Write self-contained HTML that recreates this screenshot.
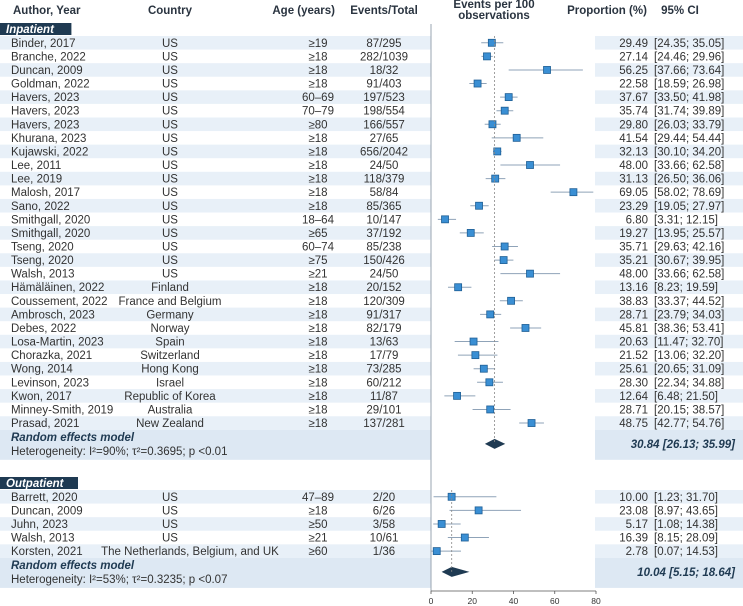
<!DOCTYPE html>
<html><head><meta charset="utf-8">
<style>
body{margin:0;background:#fff;}
svg{display:block;font-family:"Liberation Sans",sans-serif;}
</style></head>
<body>
<svg id="fp" width="743" height="606" viewBox="0 0 743 606">
<g id="bg"></g>
<g id="hdr" font-size="11.5" font-weight="bold" fill="#2a3440">
<text x="13" y="14">Author, Year</text>
<text x="170" y="14" text-anchor="middle">Country</text>
<text x="335" y="14" text-anchor="end">Age (years)</text>
<text x="384" y="14" text-anchor="middle">Events/Total</text>
<text x="494" y="8" text-anchor="middle">Events per 100</text>
<text x="494" y="19" text-anchor="middle">observations</text>
<text x="607" y="14" text-anchor="middle">Proportion (%)</text>
<text x="680" y="14" text-anchor="middle">95% CI</text>
</g>
<g id="rows" font-size="11.5" fill="#333"></g>
<g id="plot"></g>
</svg>
<script>
const inAuthors=["Binder, 2017","Branche, 2022","Duncan, 2009","Goldman, 2022","Havers, 2023","Havers, 2023","Havers, 2023","Khurana, 2023","Kujawski, 2022","Lee, 2011","Lee, 2019","Malosh, 2017","Sano, 2022","Smithgall, 2020","Smithgall, 2020","Tseng, 2020","Tseng, 2020","Walsh, 2013","Hämäläinen, 2022","Coussement, 2022","Ambrosch, 2023","Debes, 2022","Losa-Martin, 2023","Chorazka, 2021","Wong, 2014","Levinson, 2023","Kwon, 2017","Minney-Smith, 2019","Prasad, 2021"];
const inCountry=["US","US","US","US","US","US","US","US","US","US","US","US","US","US","US","US","US","US","Finland","France and Belgium","Germany","Norway","Spain","Switzerland","Hong Kong","Israel","Republic of Korea","Australia","New Zealand"];
const inAge=["≥19","≥18","≥18","≥18","60–69","70–79","≥80","≥18","≥18","≥18","≥18","≥18","≥18","18–64","≥65","60–74","≥75","≥21","≥18","≥18","≥18","≥18","≥18","≥18","≥18","≥18","≥18","≥18","≥18"];
const inEvents=["87/295","282/1039","18/32","91/403","197/523","198/554","166/557","27/65","656/2042","24/50","118/379","58/84","85/365","10/147","37/192","85/238","150/426","24/50","20/152","120/309","91/317","82/179","13/63","17/79","73/285","60/212","11/87","29/101","137/281"];
const inEst=[29.49,27.14,56.25,22.58,37.67,35.74,29.80,41.54,32.13,48.00,31.13,69.05,23.29,6.80,19.27,35.71,35.21,48.00,13.16,38.83,28.71,45.81,20.63,21.52,25.61,28.30,12.64,28.71,48.75];
const inLo=[24.35,24.46,37.66,18.59,33.50,31.74,26.03,29.44,30.10,33.66,26.50,58.02,19.05,3.31,13.95,29.63,30.67,33.66,8.23,33.37,23.79,38.36,11.47,13.06,20.65,22.34,6.48,20.15,42.77];
const inHi=[35.05,29.96,73.64,26.98,41.98,39.89,33.79,54.44,34.20,62.58,36.06,78.69,27.97,12.15,25.57,42.16,39.95,62.58,19.59,44.52,34.03,53.41,32.70,32.20,31.09,34.88,21.50,38.57,54.76];
const inPooled=[30.84,26.13,35.99];
const outAuthors=["Barrett, 2020","Duncan, 2009","Juhn, 2023","Walsh, 2013","Korsten, 2021"];
const outCountry=["US","US","US","US","The Netherlands, Belgium, and UK"];
const outAge=["47–89","≥18","≥50","≥21","≥60"];
const outEvents=["2/20","6/26","3/58","10/61","1/36"];
const outEst=[10.00,23.08,5.17,16.39,2.78];
const outLo=[1.23,8.97,1.08,8.15,0.07];
const outHi=[31.70,43.65,14.38,28.09,14.53];
const outPooled=[10.04,5.15,18.64];
const ticks=[0,20,40,60,80];

const NS="http://www.w3.org/2000/svg";
const X0=431,X1=596;
function xs(v){return X0+(v-0)/(80-0)*(X1-X0);}
function mk(tag,attrs,parent,txt){const e=document.createElementNS(NS,tag);for(const k in attrs)e.setAttribute(k,attrs[k]);if(txt!==undefined)e.textContent=txt;parent.appendChild(e);return e;}
const bg=document.getElementById('bg'),rows=document.getElementById('rows'),plot=document.getElementById('plot');
const fmt=v=>v.toFixed(2);
const STEP=13.58;

function section(label,y0,authors,country,age,events,est,lo,hi,pooled,hetTxt,key){
  const box=mk('rect',{x:0,y:y0,width:label.length*6.6+12,height:12,fill:'#1f3a52'},bg);
  
  
  const lt=mk('text',{x:6,y:y0+10,fill:'#fff','font-size':11.5,'font-style':'italic','font-weight':'bold'},bg,label);
  
  
  const top=y0+13;
  for(let i=0;i<authors.length;i++){
    const y=top+i*STEP, cy=y+STEP/2, ty=cy+4;
    if(i%2===0){
      const s1=mk('rect',{x:0,y:y,width:X0,height:STEP,fill:'#e8f0f8'},bg);
      
      
      const s2=mk('rect',{x:595,y:y,width:148,height:STEP,fill:'#e8f0f8'},bg);
      
      
    }
    const a=mk('text',{x:11,y:ty},rows,authors[i]);
    
    
    const long=country[i].length>20;
    const c=mk('text',{x:long?190:170,y:ty,'text-anchor':'middle'},rows,country[i]);
    
    
    const g=mk('text',{x:318,y:ty,'text-anchor':'middle'},rows,age[i]);
    
    
    const ev=mk('text',{x:384,y:ty,'text-anchor':'middle'},rows,events[i]);
    
    
    const p=mk('text',{x:648,y:ty,'text-anchor':'end'},rows,fmt(est[i]));
    
    
    const ci=mk('text',{x:654,y:ty},rows,'['+fmt(lo[i])+'; '+fmt(hi[i])+']');
    
    
    const ln=mk('line',{x1:xs(lo[i]),x2:xs(hi[i]),y1:cy,y2:cy,stroke:'#8fa3b8','stroke-width':1},plot);
    
    
    const sq=mk('rect',{x:xs(est[i])-3.5,y:cy-3.5,width:7,height:7,fill:'#3a8fd4',stroke:'#1f5f95','stroke-width':0.8},plot);
    
    
  }
  const by=top+authors.length*STEP;
  const b1=mk('rect',{x:0,y:by,width:X0,height:30,fill:'#dde8f3'},bg);
  
  
  const b2=mk('rect',{x:595,y:by,width:148,height:30,fill:'#dde8f3'},bg);
  
  
  const rt=mk('text',{x:11,y:by+11,'font-style':'italic','font-weight':'bold',fill:'#1f3a52'},rows,'Random effects model');
  
  
  const ht=mk('text',{x:11,y:by+25},rows,hetTxt);
  
  
  const pv=mk('text',{x:735,y:by+18,'text-anchor':'end','font-style':'italic','font-weight':'bold',fill:'#1f3a52'},rows,fmt(pooled[0])+' ['+fmt(pooled[1])+'; '+fmt(pooled[2])+']');
  
  
  const dy=by+14;
  const d=mk('polygon',{points:xs(pooled[1])+','+dy+' '+xs(pooled[0])+','+(dy-5)+' '+xs(pooled[2])+','+dy+' '+xs(pooled[0])+','+(dy+5),fill:'#1f3a52'},plot);
  
  
  const dl=mk('line',{x1:xs(pooled[0]),x2:xs(pooled[0]),y1:top,y2:dy,stroke:'#888','stroke-width':0.8,'stroke-dasharray':'2,2'},plot);
  
  
}
section('Inpatient',23,inAuthors,inCountry,inAge,inEvents,inEst,inLo,inHi,inPooled,'Heterogeneity: I²=90%; τ²=0.3695; p <0.01','inpatient');
section('Outpatient',477,outAuthors,outCountry,outAge,outEvents,outEst,outLo,outHi,outPooled,'Heterogeneity: I²=53%; τ²=0.3235; p <0.07','outpatient');

const vl=mk('line',{x1:X0,x2:X0,y1:24,y2:591,stroke:'#9aa5b1','stroke-width':1},plot);


const ax=mk('line',{x1:X0,x2:X1,y1:591,y2:591,stroke:'#555','stroke-width':0.8},plot);


for(const t of ticks){
  const tk=mk('line',{x1:xs(t),x2:xs(t),y1:591,y2:594,stroke:'#555','stroke-width':0.8},plot);
  
  
  const tl=mk('text',{x:xs(t),y:604,'text-anchor':'middle','font-size':8.5,fill:'#333'},plot,String(t));
  
  
}
</script>
</body></html>
